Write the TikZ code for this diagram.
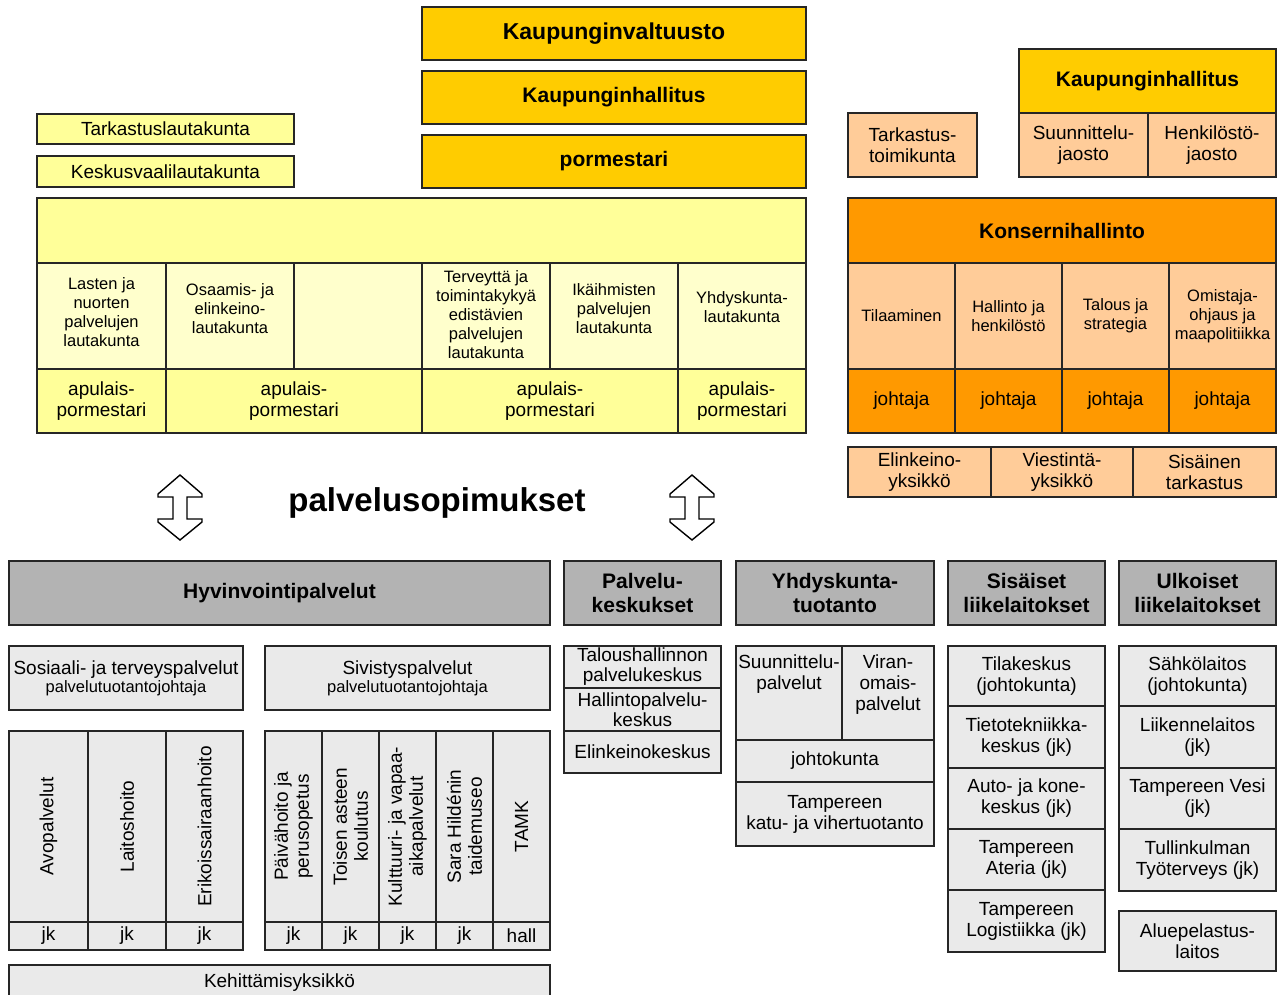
\documentclass[tikz,border=0pt]{standalone}
\usepackage{fontspec}
\setmainfont{Liberation Sans}
\usetikzlibrary{positioning}
\definecolor{gold}{HTML}{FFCC00}
\definecolor{lyellow}{HTML}{FFFF99}
\definecolor{pyellow}{HTML}{FFFFCC}
\definecolor{orng}{HTML}{FF9900}
\definecolor{peach}{HTML}{FFCC99}
\definecolor{hgray}{HTML}{B3B3B3}
\definecolor{lgray}{HTML}{EAEAEA}
\begin{document}
\begin{tikzpicture}[x=1pt,y=-1pt,
  cell/.style 2 args={draw=black!85, line width=1.6pt, minimum width=#1pt, minimum height=#2pt,
    anchor=north west, inner sep=1pt, outer sep=0pt, align=center, font=\fontsize{19}{21}\selectfont},
  small/.style={align=center, inner sep=0pt, font=\fontsize{16.5}{19}\selectfont},
  hb/.style={font=\fontsize{21}{24}\selectfont\bfseries},
  vert/.style={rotate=90, align=center, inner sep=0pt, font=\fontsize{19}{21}\selectfont},
  hollow/.style={draw=black, line width=1.4pt, fill=white, line join=miter}]
\path[fill=white,use as bounding box] (0,0) rectangle (1277,994);

\node[cell={384}{53}, fill=gold, font=\fontsize{23}{26}\selectfont\bfseries] (KV) at (422,7) {Kaupunginvaltuusto};
\node[cell={384}{53}, fill=gold, hb] (KH) at (422,71) {Kaupunginhallitus};
\node[cell={384}{53}, fill=gold, hb] (PM) at (422,135) {pormestari};
\node[cell={257}{30}, fill=lyellow] (TL) at (37,114) {Tarkastuslautakunta};
\node[cell={257}{31}, fill=lyellow] (KVL) at (37,156) {Keskusvaalilautakunta};

\node[cell={769}{65}, fill=lyellow] (LK) at (37,198) {};
\node[cell={129}{106}, fill=pyellow] (L1) at (37,263) {};
\node[cell={128}{106}, fill=pyellow] (L2) at (166,263) {};
\node[cell={128}{106}, fill=pyellow] (L3) at (294,263) {};
\node[cell={128}{106}, fill=pyellow] (L4) at (422,263) {};
\node[cell={128}{106}, fill=pyellow] (L5) at (550,263) {};
\node[cell={128}{106}, fill=pyellow] (L6) at (678,263) {};
\node[small, yshift=4pt] (L1T) at (L1) {Lasten ja\\nuorten\\palvelujen\\lautakunta};
\node[small, yshift=7pt] (L2T) at (L2) {Osaamis- ja\\elinkeino-\\lautakunta};
\node[small, yshift=1pt] (L4T) at (L4) {Terveyttä ja\\toimintakykyä\\edistävien\\palvelujen\\lautakunta};
\node[small, yshift=7pt] (L5T) at (L5) {Ikäihmisten\\palvelujen\\lautakunta};
\node[small, yshift=9pt] (L6T) at (L6) {Yhdyskunta-\\lautakunta};
\node[cell={129}{64}, fill=lyellow] (A1) at (37,369) {apulais-\\pormestari};
\node[cell={256}{64}, fill=lyellow] (A2) at (166,369) {apulais-\\pormestari};
\node[cell={256}{64}, fill=lyellow] (A3) at (422,369) {apulais-\\pormestari};
\node[cell={128}{64}, fill=lyellow] (A4) at (678,369) {apulais-\\pormestari};

\node[cell={257}{64}, fill=gold, hb] (KH2) at (1019,49) {Kaupunginhallitus};
\node[cell={129}{64}, fill=peach] (SJ) at (1019,113) {Suunnittelu-\\jaosto};
\node[cell={128}{64}, fill=peach] (HJ) at (1148,113) {Henkilöstö-\\jaosto};
\node[cell={129}{64}, fill=peach] (TT) at (848,113) {Tarkastus-\\toimikunta};

\node[cell={428}{65}, fill=orng, hb] (KO) at (848,198) {Konsernihallinto};
\node[cell={107}{106}, fill=peach, small] (K1) at (848,263) {Tilaaminen};
\node[cell={107}{106}, fill=peach, small] (K2) at (955,263) {Hallinto ja\\henkilöstö};
\node[cell={107}{106}, fill=peach, small] (K3) at (1062,263) {Talous ja\\strategia};
\node[cell={107}{106}, fill=peach, small] (K4) at (1169,263) {Omistaja-\\ohjaus ja\\maapolitiikka};
\node[cell={107}{64}, fill=orng] (J1) at (848,369) {johtaja};
\node[cell={107}{64}, fill=orng] (J2) at (955,369) {johtaja};
\node[cell={107}{64}, fill=orng] (J3) at (1062,369) {johtaja};
\node[cell={107}{64}, fill=orng] (J4) at (1169,369) {johtaja};
\node[cell={143}{50}, fill=peach] (EY) at (848,447) {Elinkeino-\\yksikkö};
\node[cell={142}{50}, fill=peach] (VY) at (991,447) {Viestintä-\\yksikkö};
\node[cell={143}{50}, fill=peach] (ST) at (1133,447) {Sisäinen\\tarkastus};

\draw[hollow] (180,475) -- ++(22,19) -- ++(0,3) -- ++(-15,0) -- ++(0,22) -- ++(15,0) -- ++(0,3)
  -- ++(-22,18) -- ++(-22,-18) -- ++(0,-3) -- ++(15,0) -- ++(0,-22) -- ++(-15,0) -- ++(0,-3) -- cycle;
\draw[hollow] (692,475) -- ++(22,19) -- ++(0,3) -- ++(-15,0) -- ++(0,22) -- ++(15,0) -- ++(0,3)
  -- ++(-22,18) -- ++(-22,-18) -- ++(0,-3) -- ++(15,0) -- ++(0,-22) -- ++(-15,0) -- ++(0,-3) -- cycle;
\node[font=\fontsize{33}{36}\selectfont\bfseries] (PS) at (437,503) {palvelusopimukset};

\node[cell={541}{64}, fill=hgray, hb] (HP) at (9,561) {Hyvinvointipalvelut};
\node[cell={157}{64}, fill=hgray, hb] (PK) at (564,561) {Palvelu-\\keskukset};
\node[cell={198}{64}, fill=hgray, hb] (YT) at (736,561) {Yhdyskunta-\\tuotanto};
\node[cell={157}{64}, fill=hgray, hb] (SL) at (948,561) {Sisäiset\\liikelaitokset};
\node[cell={157}{64}, fill=hgray, hb] (UL) at (1119,561) {Ulkoiset\\liikelaitokset};

\node[cell={234}{64}, fill=lgray] (SO) at (9,646) {Sosiaali- ja terveyspalvelut\\[-3pt]{\fontsize{16.5}{19}\selectfont palvelutuotantojohtaja}};
\node[cell={285}{64}, fill=lgray] (SI) at (265,646) {Sivistyspalvelut\\[-3pt]{\fontsize{16.5}{19}\selectfont palvelutuotantojohtaja}};

\node[cell={79}{191}, fill=lgray] (S1) at (9,731) {};
\node[cell={78}{191}, fill=lgray] (S2) at (88,731) {};
\node[cell={77}{191}, fill=lgray] (S3) at (166,731) {};
\node[vert] (S1T) at (S1) {Avopalvelut};
\node[vert] (S2T) at (S2) {Laitoshoito};
\node[vert] (S3T) at (S3) {Erikoissairaanhoito};
\node[cell={79}{28}, fill=lgray] (S1J) at (9,922) {jk};
\node[cell={78}{28}, fill=lgray] (S2J) at (88,922) {jk};
\node[cell={77}{28}, fill=lgray] (S3J) at (166,922) {jk};

\node[cell={57}{191}, fill=lgray] (V1) at (265,731) {};
\node[cell={57}{191}, fill=lgray] (V2) at (322,731) {};
\node[cell={57}{191}, fill=lgray] (V3) at (379,731) {};
\node[cell={57}{191}, fill=lgray] (V4) at (436,731) {};
\node[cell={57}{191}, fill=lgray] (V5) at (493,731) {};
\node[vert] (V1T) at (V1) {Päivähoito ja\\perusopetus};
\node[vert] (V2T) at (V2) {Toisen asteen\\koulutus};
\node[vert] (V3T) at (V3) {Kulttuuri- ja vapaa-\\aikapalvelut};
\node[vert] (V4T) at (V4) {Sara Hildénin\\taidemuseo};
\node[vert] (V5T) at (V5) {TAMK};
\node[cell={57}{28}, fill=lgray] (V1J) at (265,922) {jk};
\node[cell={57}{28}, fill=lgray] (V2J) at (322,922) {jk};
\node[cell={57}{28}, fill=lgray] (V3J) at (379,922) {jk};
\node[cell={57}{28}, fill=lgray] (V4J) at (436,922) {jk};
\node[cell={57}{28}, fill=lgray] (V5J) at (493,922) {hall};
\node[cell={541}{36}, fill=lgray] (KY) at (9,965) {Kehittämisyksikkö};

\node[cell={157}{42}, fill=lgray, font=\fontsize{19}{20}\selectfont] (PK1) at (564,646) {Taloushallinnon\\palvelukeskus};
\node[cell={157}{43}, fill=lgray, font=\fontsize{19}{20}\selectfont] (PK2) at (564,688) {Hallintopalvelu-\\keskus};
\node[cell={157}{42}, fill=lgray] (PK3) at (564,731) {Elinkeinokeskus};

\node[cell={106}{94}, fill=lgray] (SP) at (736,646) {};
\node[cell={92}{94}, fill=lgray] (VP) at (842,646) {};
\node[align=center, inner sep=0pt, font=\fontsize{19}{21}\selectfont, below=9pt of SP.north] (SPT) {Suunnittelu-\\palvelut};
\node[align=center, inner sep=0pt, font=\fontsize{19}{21}\selectfont, below=9pt of VP.north] (VPT) {Viran-\\omais-\\palvelut};
\node[cell={198}{42}, fill=lgray] (JK) at (736,740) {johtokunta};
\node[cell={198}{64}, fill=lgray] (TK) at (736,782) {Tampereen\\katu- ja vihertuotanto};

\node[cell={157}{60}, fill=lgray] (SL1) at (948,646) {Tilakeskus\\(johtokunta)};
\node[cell={157}{62}, fill=lgray] (SL2) at (948,706) {Tietotekniikka-\\keskus (jk)};
\node[cell={157}{61}, fill=lgray] (SL3) at (948,768) {Auto- ja kone-\\keskus (jk)};
\node[cell={157}{61}, fill=lgray] (SL4) at (948,829) {Tampereen\\Ateria (jk)};
\node[cell={157}{62}, fill=lgray] (SL5) at (948,890) {Tampereen\\Logistiikka (jk)};

\node[cell={157}{60}, fill=lgray] (UL1) at (1119,646) {Sähkölaitos\\(johtokunta)};
\node[cell={157}{62}, fill=lgray] (UL2) at (1119,706) {Liikennelaitos\\(jk)};
\node[cell={157}{61}, fill=lgray] (UL3) at (1119,768) {Tampereen Vesi\\(jk)};
\node[cell={157}{62}, fill=lgray] (UL4) at (1119,829) {Tullinkulman\\Työterveys (jk)};
\node[cell={157}{60}, fill=lgray] (AP) at (1119,911) {Aluepelastus-\\laitos};
\end{tikzpicture}
\end{document}
